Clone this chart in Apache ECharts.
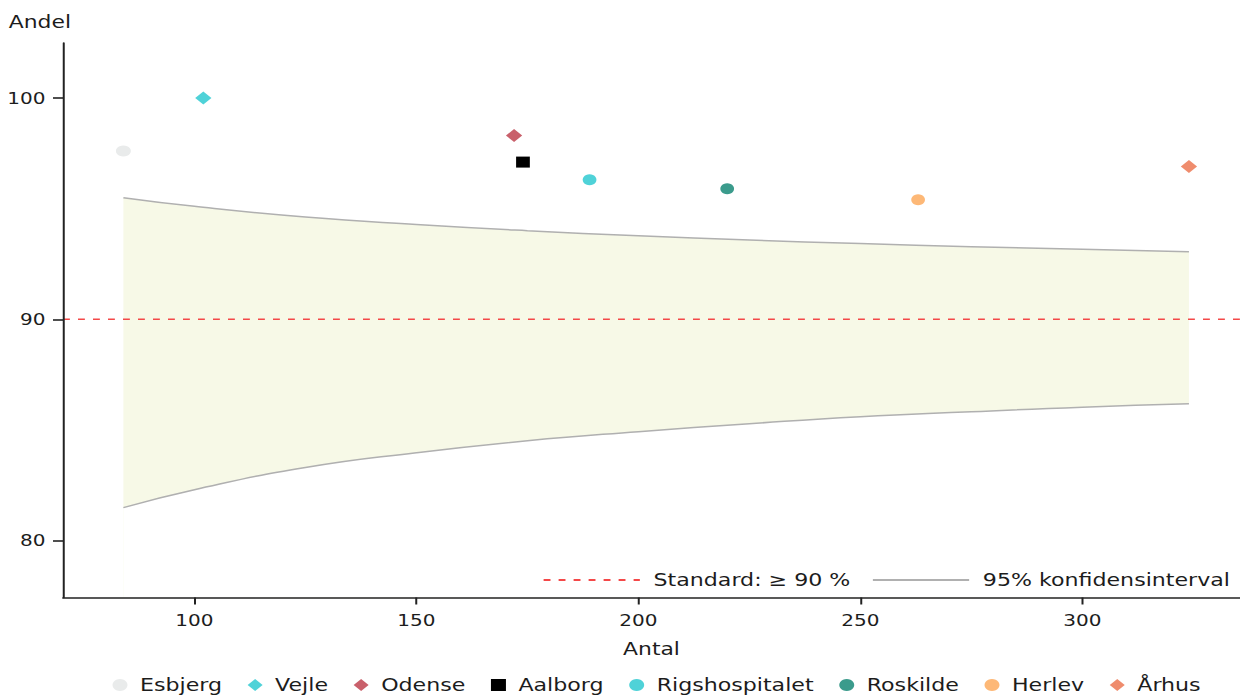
<!DOCTYPE html>
<html>
<head>
<meta charset="utf-8">
<script src="https://cdn.jsdelivr.net/npm/echarts@6/dist/echarts.min.js"></script>
<style>
  html, body { margin: 0; padding: 0; background: #fff; overflow: hidden; }
  #wrap { width: 1240px; height: 695px; overflow: hidden; }
  #chart { width: 992px; height: 695px; transform: scaleX(1.25); transform-origin: 0 0; }
</style>
</head>
<body>
<div id="wrap"><div id="chart"></div></div>
<script>
// Hospitals: number of patients (Antal) and share meeting the standard (Andel, %)
const hospitals = ['Esbjerg', 'Vejle', 'Odense', 'Aalborg', 'Rigshospitalet', 'Roskilde', 'Herlev', 'Århus'];
const antal = [84, 102, 172, 174, 189, 220, 263, 324];
const andel = [97.6, 100, 98.3, 97.1, 96.3, 95.9, 95.4, 96.9];
const symbols = ['circle', 'diamond', 'diamond', 'rect', 'circle', 'circle', 'circle', 'diamond'];
const colors = ['#e9ebeb', '#4fd2d8', '#c9606b', '#000000', '#4fd2d8', '#3b9b8c', '#fdb877', '#ef8c6d'];

// 95% confidence band around the standard
const ciAntal = [84, 100, 125, 150, 175, 200, 225, 250, 275, 300, 324];
const ciUpper = [95.49, 95.1, 94.62, 94.28, 94.0, 93.77, 93.58, 93.42, 93.28, 93.16, 93.05];
const ciLower = [81.49, 82.3, 83.3, 83.97, 84.51, 84.92, 85.28, 85.6, 85.82, 86.03, 86.18];

const standard = 90;
const xTicks = [100, 150, 200, 250, 300];
const yTicks = [80, 90, 100];
const xRange = [70.4, 335.5];
const yRange = [77.43, 102.48];

const FONT = 'DejaVu Sans';
const INK = '#1c1c1c';
const CI_NAME = '95% konfidensinterval';
const STD_NAME = 'Standard: \u2265 90 %';
const CI_EDGE = '#b0b0b0';
const CI_FILL = '#f7f9e7';

const chart = echarts.init(document.getElementById('chart'), null, { renderer: 'svg' });

const hospitalSeries = hospitals.map((name, i) => ({
  name: name,
  type: 'scatter',
  data: [[antal[i], andel[i]]],
  symbol: symbols[i],
  symbolSize: symbols[i] === 'diamond' ? 13 : (i === 0 ? [12, 11] : 11),
  itemStyle: { color: colors[i], opacity: 1 },
  z: 5
}));

chart.setOption({
  animation: false,
  backgroundColor: '#ffffff',
  textStyle: { fontFamily: FONT, color: INK },
  title: {
    text: 'Andel',
    left: 2,
    top: 8,
    textStyle: { fontFamily: FONT, fontSize: 17.5, fontWeight: 'normal', color: INK }
  },
  grid: { left: 50.4, right: 0, top: 43, bottom: 97.5, containLabel: false },
  xAxis: {
    type: 'value',
    min: xRange[0],
    max: xRange[1],
    z: 10,
    name: 'Antal',
    nameLocation: 'middle',
    nameGap: 43,
    nameTextStyle: { fontFamily: FONT, fontSize: 17.5, color: INK },
    axisLine: { show: true, lineStyle: { color: '#222', width: 1.6 } },
    axisTick: { show: true, length: 7, customValues: xTicks, lineStyle: { color: '#222', width: 1.6 } },
    axisLabel: { customValues: xTicks, margin: 15, fontFamily: FONT, fontSize: 16, color: INK },
    splitLine: { show: false }
  },
  yAxis: {
    type: 'value',
    min: yRange[0],
    max: yRange[1],
    z: 10,
    axisLine: { show: true, lineStyle: { color: '#222', width: 1.6 } },
    axisTick: { show: true, length: 8, customValues: yTicks, lineStyle: { color: '#222', width: 1.6 } },
    axisLabel: { customValues: yTicks, margin: 14, fontFamily: FONT, fontSize: 16, color: INK },
    splitLine: { show: false }
  },
  legend: [
    {
      data: [
        { name: STD_NAME, itemStyle: { opacity: 0 } },
        { name: CI_NAME, itemStyle: { opacity: 0 } }
      ],
      right: 8,
      top: 571,
      padding: 0,
      itemWidth: 77,
      itemHeight: 14,
      itemGap: 17,
      textStyle: { fontFamily: FONT, fontSize: 17.7, color: INK, padding: [0, 0, 0, 6] },
      selectedMode: false
    },
    {
      data: hospitals,
      left: 90,
      top: 676,
      padding: 0,
      itemWidth: 12,
      itemHeight: 12,
      itemGap: 20.5,
      textStyle: { fontFamily: FONT, fontSize: 17.7, color: INK, padding: [0, 0, 0, 5] },
      selectedMode: false
    }
  ],
  series: [
    {
      // upper edge of the band; its area is filled down to the axis
      name: CI_NAME,
      type: 'line',
      smooth: true,
      symbol: 'none',
      silent: true,
      data: ciAntal.map((n, i) => [n, ciUpper[i]]),
      lineStyle: { color: CI_EDGE, width: 1.5 },
      itemStyle: { color: CI_EDGE },
      areaStyle: { color: CI_FILL, opacity: 1, origin: 'start' },
      z: 1
    },
    {
      // lower edge of the band; the area beneath it is cleared back to white
      name: CI_NAME,
      type: 'line',
      smooth: true,
      symbol: 'none',
      silent: true,
      data: ciAntal.map((n, i) => [n, ciLower[i]]),
      lineStyle: { color: CI_EDGE, width: 1.5 },
      itemStyle: { color: CI_EDGE },
      areaStyle: { color: '#ffffff', opacity: 1, origin: 'start' },
      z: 1
    },
    {
      name: STD_NAME,
      type: 'line',
      symbol: 'none',
      silent: true,
      data: [[xRange[0], standard], [xRange[1], standard]],
      lineStyle: { color: '#f44848', width: 1.5, type: [5.5, 6.5] },
      itemStyle: { color: '#f44848' },
      z: 3
    }
  ].concat(hospitalSeries)
});
</script>
</body>
</html>
